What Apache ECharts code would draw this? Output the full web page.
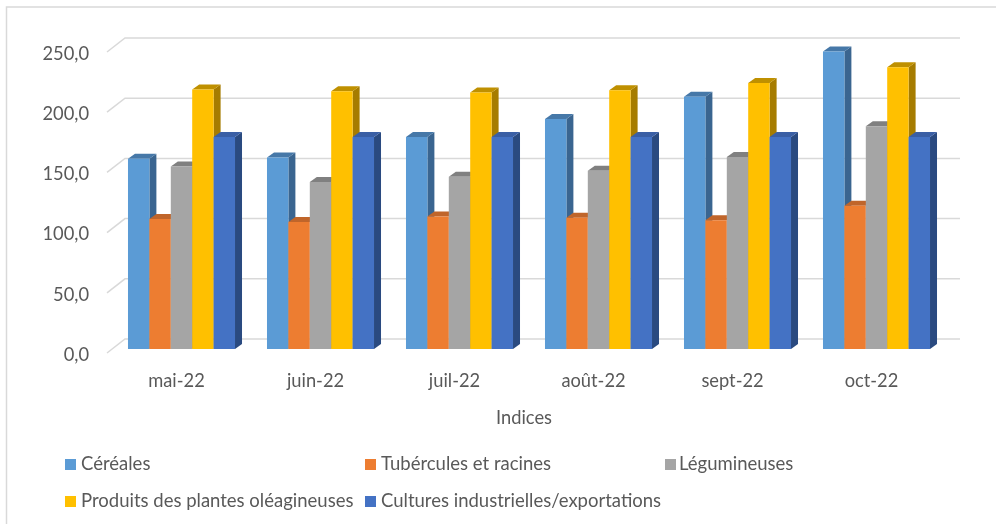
<!DOCTYPE html>
<html><head><meta charset="utf-8">
<style>html,body{margin:0;padding:0;background:#fff}#c{width:996px;height:524px}</style>
<script src="https://cdn.jsdelivr.net/npm/echarts@6/dist/echarts.min.js"></script>
</head><body><div id="c"></div>
<script>
const categories = ['mai-22','juin-22','juil-22','août-22','sept-22','oct-22'];
const cereales = [158,159,176,191,209.5,247];
const tubercules = [108,105.5,110,109,107,119];
const legumineuses = [151.5,138.7,143,148,159.5,185];
const oleagineuses = [215.5,214,213,215,221,234];
const industrielles = [176,176,176,176,176,176];
const ticks = [0,50,100,150,200,250];

const names = ['Céréales','Tubércules et racines','Légumineuses','Produits des plantes oléagineuses','Cultures industrielles/exportations'];
const values = [cereales,tubercules,legumineuses,oleagineuses,industrielles];
const front = ['#5B9BD5','#ED7D31','#A5A5A5','#FFC000','#4472C4'];
const side  = ['#3A6590','#A8581F','#6E6E6E','#A67C00','#2A4A80'];
const top_  = ['#4678A8','#C0652A','#808080','#BF9000','#3A5FA5'];

const DX = 7, DY = 5, SHIFT = 5, BASE = 4, WIDTH = 0.154;
const GX = 18, GY = 14;

function barRenderer(i){
  return function(params, api){
    const c = api.coord([api.value(0), api.value(1)]);
    const z = api.coord([api.value(0), 0]);
    const w = api.size([1,0])[0] * WIDTH;
    const x = c[0] + SHIFT + (i-2.5)*w;
    const yT = c[1]-BASE, yB = z[1]-BASE;
    return {type:'group', children:[
      {type:'polygon', shape:{points:[[x+w,yT],[x+w+DX,yT-DY],[x+w+DX,yB-DY],[x+w,yB]]}, style:{fill:side[i]}},
      {type:'polygon', shape:{points:[[x,yT],[x+DX,yT-DY],[x+w+DX,yT-DY],[x+w,yT]]}, style:{fill:top_[i]}},
      {type:'rect', shape:{x:x,y:yT,width:w,height:yB-yT}, style:{fill:front[i]}}
    ]};
  };
}
function gridRenderer(params, api){
  const y = api.coord([0, api.value(0)])[1];
  const left = params.coordSys.x, right = left + params.coordSys.width;
  return {type:'polyline', shape:{points:[[left,y],[left+GX,y-GY],[right+GX+1,y-GY]]},
    style:{fill:null, stroke:'#D9D9D9', lineWidth:1.5}};
}
const legendPos = [[60,450],[360,450],[660,450],[60,487],[360,487]];
const font = 'Lato, Carlito, "Open Sans", sans-serif';

const chart = echarts.init(document.getElementById('c'), null, {renderer:'canvas'});
chart.setOption({
  animation:false,
  backgroundColor:'#fff',
  graphic:[{type:'polyline', shape:{points:[[6.5,524],[6.5,7],[996,7]]}, style:{fill:null,stroke:'#D9D9D9',lineWidth:1.5}, z:-1}],
  legend: names.map((n,k)=>({data:[n], left:legendPos[k][0], top:legendPos[k][1], icon:'rect', itemWidth:11, itemHeight:11, itemGap:5,
    textStyle:{fontFamily:font,fontSize:18.5,color:'#595959',padding:[0,0,0,k===2?-2:0]}, selectedMode:false})),
  grid:{left:107, width:834, top:52, height:301},
  xAxis:{type:'category', data:categories, axisLine:{show:false}, axisTick:{show:false},
    axisLabel:{fontFamily:font,fontSize:18.3,color:'#595959',margin:19},
    name:'Indices', nameLocation:'middle', nameGap:56,
    nameTextStyle:{fontFamily:font,fontSize:18.3,color:'#595959'}},
  yAxis:{type:'value', min:0, max:250, interval:50, axisLine:{show:false}, axisTick:{show:false}, splitLine:{show:false},
    axisLabel:{margin:18,
      formatter:v=>'{t|'+v.toFixed(1).replace('.',',')+'}',
      rich:{t:{fontFamily:font,fontSize:18.3,color:'#595959',padding:[4,0,0,0]}}}},
  series:[
    {type:'custom', silent:true, data:ticks.map(t=>[t]), renderItem:gridRenderer, encode:{y:0}, clip:false, z:1},
    ...names.map((n,i)=>({type:'custom', name:n, clip:false, z:2, itemStyle:{color:front[i]},
      data:values[i].map((v,k)=>[k,v]), encode:{x:0,y:1}, renderItem:barRenderer(i)}))
  ]
});
</script></body></html>
